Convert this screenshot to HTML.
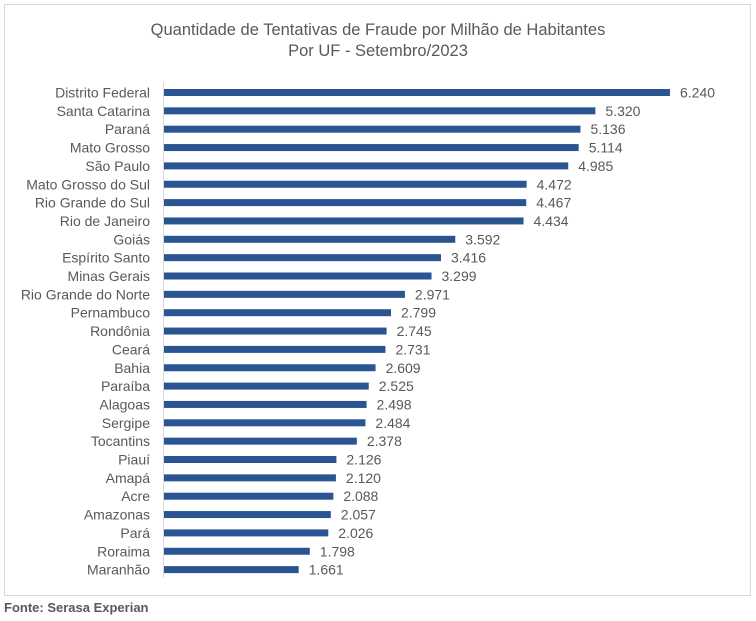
<!DOCTYPE html>
<html><head><meta charset="utf-8"><style>
body{margin:0;background:#fff;width:756px;height:621px;overflow:hidden}
svg{display:block;font-family:"Liberation Sans",sans-serif}
</style></head><body>
<svg width="756" height="621" xmlns="http://www.w3.org/2000/svg">
<rect x="4.5" y="4.5" width="746" height="591" fill="#fff" stroke="#d9d9d9"/>
<text x="378" y="35" text-anchor="middle" font-size="16.5" fill="#595959">Quantidade de Tentativas de Fraude por Milhão de Habitantes</text>
<text x="378" y="56" text-anchor="middle" font-size="16.5" fill="#595959">Por UF - Setembro/2023</text>
<line x1="163.5" y1="82" x2="163.5" y2="578" stroke="#d9d9d9"/>
<g id="bars" font-size="14" fill="#595959"></g>
<text x="4" y="612" font-size="13" font-weight="bold" fill="#595959">Fonte: Serasa Experian</text>
</svg>
<script>
const d=[["Distrito Federal",6240],["Santa Catarina",5320],["Paraná",5136],["Mato Grosso",5114],["São Paulo",4985],["Mato Grosso do Sul",4472],["Rio Grande do Sul",4467],["Rio de Janeiro",4434],["Goiás",3592],["Espírito Santo",3416],["Minas Gerais",3299],["Rio Grande do Norte",2971],["Pernambuco",2799],["Rondônia",2745],["Ceará",2731],["Bahia",2609],["Paraíba",2525],["Alagoas",2498],["Sergipe",2484],["Tocantins",2378],["Piauí",2126],["Amapá",2120],["Acre",2088],["Amazonas",2057],["Pará",2026],["Roraima",1798],["Maranhão",1661]];
let s="";
d.forEach((r,i)=>{const c=92.5+i*18.35,w=r[1]*506/6240;
s+=`<text x="150" y="${c+5}" text-anchor="end">${r[0]}</text><rect x="164" y="${c-3.5}" width="${w}" height="7" fill="#2b5592"/><text x="${164+w+10}" y="${c+5}">${(r[1]/1000).toFixed(3)}</text>`;});
document.getElementById("bars").innerHTML=s;
</script>
</body></html>
